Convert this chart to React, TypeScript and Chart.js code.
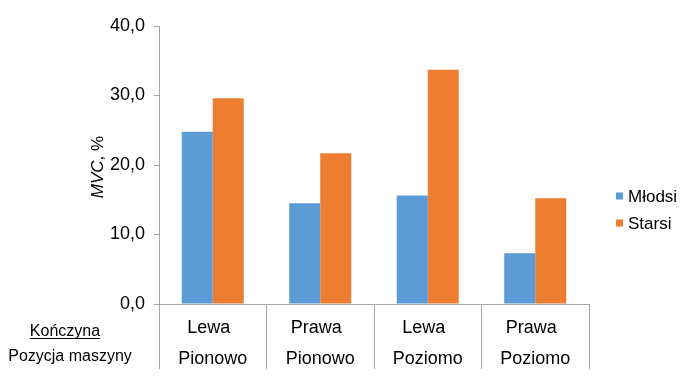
import React, { useEffect, useRef } from "react";
import { Chart, registerables } from "chart.js";

Chart.register(...registerables);

const limbs = ["Lewa", "Prawa", "Lewa", "Prawa"];
const positions = ["Pionowo", "Pionowo", "Poziomo", "Poziomo"];
const categories = limbs.map((l, i) => `${l} ${positions[i]}`);
const mlodsi = [24.8, 14.5, 15.6, 7.3];
const starsi = [29.6, 21.7, 33.7, 15.2];
const seriesNames = ["Młodsi", "Starsi"];
const seriesColors = ["#5B9BD5", "#ED7D31"];
const rowLabels = ["Kończyna", "Pozycja maszyny"];
const FONT = "'Liberation Sans', Arial, sans-serif";
const AXIS = "#A6A6A6";

const overlay = {
  id: "overlay",
  afterDraw(chart: any) {
    const ctx = chart.ctx;
    const x = chart.scales.x;
    const area = chart.chartArea;
    ctx.save();
    ctx.fillStyle = "#000";
    // category labels
    ctx.font = `18px ${FONT}`;
    ctx.textAlign = "center";
    ctx.textBaseline = "alphabetic";
    for (let i = 0; i < categories.length; i++) {
      const cx = x.getPixelForValue(i);
      ctx.fillText(limbs[i], cx - 4, area.bottom + 29);
      ctx.fillText(positions[i], cx, area.bottom + 60);
    }
    // row labels
    ctx.font = `16px ${FONT}`;
    ctx.textAlign = "center";
    const rx1 = 65;
    const rx2 = 70;
    ctx.fillText(rowLabels[0], rx1, area.bottom + 32);
    const w = ctx.measureText(rowLabels[0]).width;
    ctx.fillRect(rx1 - w / 2, area.bottom + 34, w, 1);
    ctx.fillText(rowLabels[1], rx2, area.bottom + 57);
    // y title
    ctx.translate(103, (area.top + area.bottom) / 2 + 2);
    ctx.rotate(-Math.PI / 2);
    ctx.textAlign = "left";
    ctx.font = `italic 17px ${FONT}`;
    const p1 = "MVC";
    const p2 = ", %";
    const w1 = ctx.measureText(p1).width;
    ctx.font = `17px ${FONT}`;
    const w2 = ctx.measureText(p2).width;
    const start = -(w1 + w2) / 2;
    ctx.font = `italic 17px ${FONT}`;
    ctx.fillText(p1, start, 0);
    ctx.font = `17px ${FONT}`;
    ctx.fillText(p2, start + w1, 0);
    ctx.setTransform(1, 0, 0, 1, 0, 0);
    // legend
    ctx.font = `17px ${FONT}`;
    ctx.textAlign = "left";
    ctx.textBaseline = "middle";
    for (let i = 0; i < seriesNames.length; i++) {
      const ly = 196 + i * 27;
      ctx.fillStyle = seriesColors[i];
      ctx.fillRect(616, ly - 3.5, 7, 7);
      ctx.fillStyle = "#000";
      ctx.fillText(seriesNames[i], 628, ly + 1);
    }
    ctx.restore();
  },
};

export default function App() {
  const ref = useRef<HTMLCanvasElement>(null);
  useEffect(() => {
    if (!ref.current) return;
    const chart = new Chart(ref.current, {
      type: "bar",
      data: {
        labels: categories,
        datasets: [
          { label: seriesNames[0], data: mlodsi, backgroundColor: seriesColors[0] },
          { label: seriesNames[1], data: starsi, backgroundColor: seriesColors[1] },
        ],
      },
      options: {
        responsive: false,
        animation: false,
        layout: { padding: { left: 0, right: 111, top: 26, bottom: 0 } },
        datasets: { bar: { categoryPercentage: 0.577, barPercentage: 1.0 } },
        plugins: { legend: { display: false }, tooltip: { enabled: false } },
        scales: {
          x: {
            ticks: { display: false },
            grid: {
              offset: true,
              drawOnChartArea: false,
              drawTicks: true,
              tickLength: 65,
              color: AXIS,
            },
            border: { color: AXIS },
            afterFit: (s: any) => {
              s.height = 73;
            },
          },
          y: {
            min: 0,
            max: 40,
            ticks: {
              stepSize: 10,
              color: "#000",
              font: { family: FONT, size: 18 },
              padding: 9,
              callback: (v: any) => Number(v).toFixed(1).replace(".", ","),
            },
            grid: { drawOnChartArea: false, drawTicks: true, tickLength: 5, color: AXIS },
            border: { color: AXIS },
            afterFit: (s: any) => {
              s.width = 159;
            },
          },
        },
      },
      plugins: [overlay],
    });
    return () => chart.destroy();
  }, []);
  return (
    <div style={{ position: "fixed", left: 0, top: 0, width: 700, height: 377, background: "#fff" }}>
      <canvas ref={ref} width={700} height={377} style={{ width: 700, height: 377, display: "block" }} />
    </div>
  );
}
